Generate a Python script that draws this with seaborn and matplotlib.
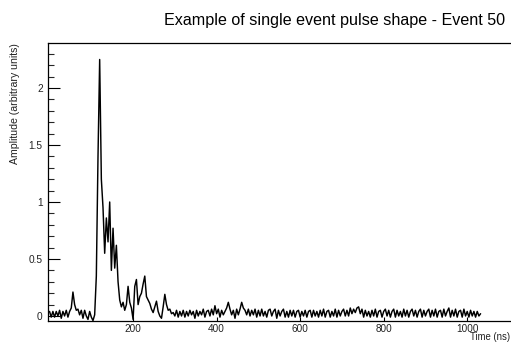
import numpy as np
import pandas as pd
import matplotlib
matplotlib.use("Agg")
import matplotlib.pyplot as plt
from matplotlib.ticker import MultipleLocator
import seaborn as sns

# ---- data ----
time_start = 0      # ns
time_step = 4       # ns
amp_pre = [0.04, -0.01, 0.04, -0.01, 0.04, 0.00, 0.05, -0.02, 0.04, 0.00, 0.05, -0.01, 0.04,
           0.07, 0.21, 0.10, 0.05, 0.06, 0.01, 0.05, -0.02, 0.05, 0.00, -0.03, 0.04, -0.01,
           -0.04, 0.01]
amp_pulse = [0.35, 1.40, 2.25, 1.20, 0.95, 0.55, 0.86, 0.65, 1.00, 0.40, 0.77, 0.42, 0.62,
             0.30, 0.14, 0.08, 0.12, 0.05, 0.10, 0.26, 0.12, 0.07, -0.03, 0.26, 0.32, 0.10,
             0.17, 0.20, 0.28, 0.35, 0.17, 0.14, 0.11, 0.06, 0.03, 0.08, 0.13, 0.04, 0.00,
             -0.02, 0.08, 0.19, 0.10, 0.05, 0.06, 0.02, 0.03]
amp_tail = [0.00, 0.05, -0.01, 0.04, 0.00, 0.05, -0.01, 0.04, 0.00, 0.05,
            0.01, 0.04, -0.02, 0.05, 0.00, 0.04, 0.01, 0.06, -0.01, 0.04,
            0.05, 0.00, 0.06, 0.01, 0.09, 0.02, 0.06, -0.01, 0.05, 0.01,
            0.04, 0.07, 0.12, 0.06, 0.01, 0.05, -0.02, 0.06, 0.01, 0.06,
            0.12, 0.07, 0.05, 0.01, 0.06, 0.00, 0.05, 0.01, 0.06, -0.01,
            0.05, 0.00, 0.06, 0.00, 0.04, -0.01, 0.05, 0.06, 0.00, 0.04,
            0.06, -0.02, 0.05, 0.00, 0.04, 0.06, -0.01, 0.04, -0.01, 0.05,
            0.00, 0.05, -0.01, 0.04, 0.05, -0.01, 0.04, 0.00, 0.05, -0.01,
            0.04, 0.05, -0.01, 0.05, 0.00, 0.04, -0.01, 0.05, 0.00, 0.06,
            -0.01, 0.04, 0.05, -0.01, 0.04, 0.00, 0.06, -0.01, 0.05, 0.00,
            0.04, 0.06, 0.00, 0.05, 0.00, 0.07, 0.02, 0.06, 0.03, 0.07,
            0.08, 0.02, 0.06, -0.01, 0.05, 0.00, 0.04, -0.01, 0.05, 0.00,
            0.06, -0.01, 0.04, 0.05, -0.01, 0.04, 0.06, 0.00, 0.05, -0.01,
            0.04, 0.06, -0.01, 0.05, 0.00, 0.04, -0.01, 0.06, 0.00, 0.05,
            -0.01, 0.04, 0.06, 0.00, 0.05, -0.01, 0.04, 0.06, -0.01, 0.05,
            0.00, 0.04, 0.06, -0.01, 0.05, 0.00, 0.06, -0.01, 0.04, 0.05,
            -0.01, 0.06, 0.00, 0.04, 0.07, -0.01, 0.05, 0.00, 0.06, -0.01,
            0.04, 0.05, -0.01, 0.06, 0.00, 0.04, -0.01, 0.05, 0.00, 0.04,
            -0.01, 0.04, 0.00, 0.02]
x_ticks = [200, 400, 600, 800, 1000]
y_ticks = [0, 0.5, 1, 1.5, 2]
y_tick_labels = ["0", "0.5", "1", "1.5", "2"]
title = "Example of single event pulse shape - Event 50"
x_label = "Time (ns)"
y_label = "Amplitude (arbitrary units)"

amplitude = amp_pre + amp_pulse + amp_tail
time_ns = time_start + time_step * np.arange(len(amplitude))
df = pd.DataFrame({"time": time_ns, "amplitude": amplitude})

# ---- style ----
sns.set_theme(style="white")
plt.rcParams["font.family"] = ["Liberation Sans", "DejaVu Sans"]

fig = plt.figure(figsize=(5.11, 3.42), dpi=100)
W, H = 511, 342
ax_left, ax_right, ax_top, ax_bottom = 48.3, 514.0, 43.3, 321.0
ax = fig.add_axes([ax_left / W, (H - ax_bottom) / H,
                   (ax_right - ax_left) / W, (ax_bottom - ax_top) / H])

sns.lineplot(data=df, x="time", y="amplitude", ax=ax, color="black",
             linewidth=1.05, estimator=None, sort=False)

ax.set_xlim(-3, 1112)
ax.set_ylim(-0.044, 2.392)

ax.set_xticks(x_ticks)
ax.set_xticklabels([str(v) for v in x_ticks])
ax.set_yticks(y_ticks)
ax.set_yticklabels(y_tick_labels)
ax.yaxis.set_minor_locator(MultipleLocator(0.1))

ax.tick_params(axis="y", which="major", direction="in", length=8.5, width=0.8,
               labelsize=7.3, pad=4, colors="black", left=True)
ax.tick_params(axis="y", which="minor", direction="in", length=4.3, width=0.8, left=True)
ax.tick_params(axis="x", which="major", direction="in", length=3, width=0.8,
               labelsize=7.2, pad=2, colors="black", bottom=True)
for lab in ax.get_xticklabels() + ax.get_yticklabels():
    lab.set_color("#222222")

for side in ["left", "bottom", "top", "right"]:
    ax.spines[side].set_visible(True)
    ax.spines[side].set_color("black")
    ax.spines[side].set_linewidth(0.9)

ax.set_xlabel(x_label, fontsize=6.9, color="#222222")
ax.xaxis.label.set_ha("right")
ax.xaxis.label.set_va("bottom")
ax.xaxis.set_label_coords((510.5 - ax_left) / (ax_right - ax_left),
                          (ax_bottom - 341.6) / (ax_bottom - ax_top))

ax.set_ylabel(y_label, fontsize=7.6, color="#222222")
ax.yaxis.label.set_rotation_mode("default")
ax.yaxis.label.set_ha("center")
ax.yaxis.label.set_va("top")
ax.yaxis.set_label_coords((15 - ax_left) / (ax_right - ax_left), 1.0)

fig.text(505 / W, 1 - 20 / H, title, ha="right", va="center", fontsize=11.6, color="black")

fig.savefig("out.png", dpi=100)
